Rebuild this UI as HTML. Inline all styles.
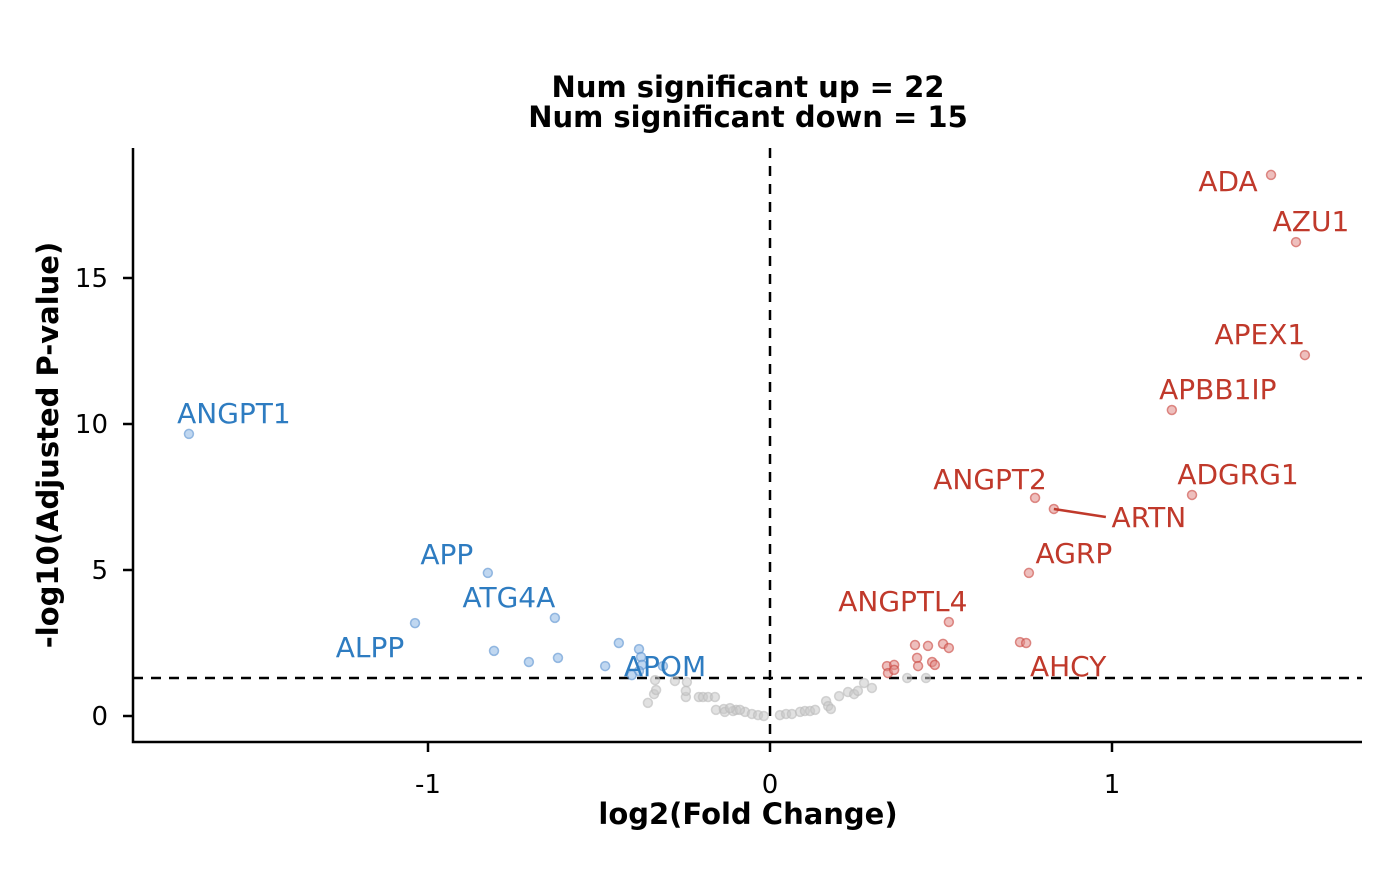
<!DOCTYPE html>
<html><head><meta charset="utf-8"><style>
body{margin:0;background:#fff;}
svg text{font-family:"DejaVu Sans","Liberation Sans",sans-serif;}
</style></head><body>
<svg id="chart" width="1400" height="866"></svg>
<script>
const grayX=[-.336,-.357,-.339,-.333,-.278,-.243,-.246,-.246,-.208,-.196,-.181,-.161,-.158,-.135,-.132,-.108,-.099,-.073,-.053,-.035,-.018,.029,.047,.064,.088,.102,.117,.132,.164,.170,.178,.202,.228,.246,.257,.275,.298,.401,.456,-.088,-.117];
const grayY=[1.23,.45,.75,.89,1.20,1.16,.65,.86,.65,.65,.65,.65,.21,.24,.14,.17,.21,.14,.07,.03,0,.03,.07,.07,.14,.17,.17,.21,.51,.34,.24,.68,.82,.75,.86,1.13,.96,1.30,1.30,.21,.27];
const upX=[1.465,1.538,1.564,1.175,1.234,.775,.830,.757,.523,.424,.462,.506,.523,.430,.474,.433,.482,.342,.363,.345,.363,.731,.749];
const upY=[18.53,16.23,12.36,10.48,7.57,7.47,7.09,4.90,3.22,2.43,2.40,2.47,2.33,1.99,1.85,1.71,1.75,1.71,1.75,1.47,1.58,2.53,2.50];
const upLabels=["ADA","AZU1","APEX1","APBB1IP","ADGRG1","ANGPT2","ARTN","AGRP","ANGPTL4","","","","","","","","","","","","","","AHCY"];
const downX=[-1.699,-.825,-.629,-1.038,-.807,-.705,-.620,-.442,-.482,-.383,-.377,-.374,-.383,-.404,-.313];
const downY=[9.66,4.90,3.36,3.18,2.23,1.85,1.99,2.50,1.71,2.29,2.02,1.75,1.54,1.40,1.71];
const downLabels=["ANGPT1","APP","ATG4A","ALPP","","","","","","","","","APOM","",""];
const xTicks=[-1,0,1];
const yTicks=[0,5,10,15];
const labelOff={ADA:[-43,6],AZU1:[15,-21],APEX1:[-45,-21],APBB1IP:[46,-21],ADGRG1:[46,-21],ANGPT2:[-45,-19],ARTN:[95,8],AGRP:[45,-20],ANGPTL4:[-46,-21],AHCY:[42,23],ANGPT1:[45,-21],APP:[-41,-19],ATG4A:[-46,-21],ALPP:[-45,24],APOM:[26,-5]};
const NS="http://www.w3.org/2000/svg";
const svg=document.getElementById('chart');
const X=v=>770+v*342, Y=v=>716-v*29.2;
function mk(t,a,p){const e=document.createElementNS(NS,t);for(const k in a)e.setAttribute(k,a[k]);(p||svg).appendChild(e);return e;}
let t=mk('text',{x:748,y:97,'text-anchor':'middle','font-size':29,'font-weight':'bold'});t.textContent='Num significant up = 22';


t=mk('text',{x:748,y:127,'text-anchor':'middle','font-size':29,'font-weight':'bold'});t.textContent='Num significant down = 15';


let ax=mk('path',{d:'M133,148V742H1362',stroke:'#000','stroke-width':2.5,fill:'none'});


yTicks.forEach(v=>{mk('line',{x1:123,x2:133,y1:Y(v),y2:Y(v),stroke:'#000','stroke-width':2.5});
 const l=mk('text',{x:108,y:Y(v)+9,'text-anchor':'end','font-size':26});l.textContent=v;
 
 });
xTicks.forEach(v=>{mk('line',{x1:X(v),x2:X(v),y1:742,y2:752,stroke:'#000','stroke-width':2.5});
 const l=mk('text',{x:X(v),y:793,'text-anchor':'middle','font-size':26});l.textContent=v;
 
 });
t=mk('text',{x:748,y:824,'text-anchor':'middle','font-size':29,'font-weight':'bold'});t.textContent='log2(Fold Change)';


t=mk('text',{x:0,y:0,'text-anchor':'middle','font-size':29,'font-weight':'bold',transform:'translate(58,445) rotate(-90)'});t.textContent='-log10(Adjusted P-value)';


let hl=mk('line',{x1:133,x2:1362,y1:Y(1.3),y2:Y(1.3),stroke:'#000','stroke-width':2.5,'stroke-dasharray':'10,8'});


let vl=mk('line',{x1:X(0),x2:X(0),y1:148,y2:742,stroke:'#000','stroke-width':2.5,'stroke-dasharray':'10,8'});


function pts(xs,ys,fill,stroke,name){xs.forEach((x,i)=>{const c=mk('circle',{cx:X(x),cy:Y(ys[i]),r:4.5,fill:fill,stroke:stroke,'stroke-width':1.5,'fill-opacity':0.55,'stroke-opacity':0.6});
 
 });}
pts(grayX,grayY,'#c8c8c8','#bbb','point-nonsignificant');
pts(upX,upY,'#e08a86','#c9463f','point-up');
pts(downX,downY,'#8db6e3','#5b93d0','point-down');
function labels(xs,ys,names,col){names.forEach((n,i)=>{if(!n)return;const o=labelOff[n];const px=X(xs[i]),py=Y(ys[i]);
 if(n==='ARTN'){mk('line',{x1:px,y1:py,x2:px+52,y2:py+8,stroke:col,'stroke-width':2.5});}
 const l=mk('text',{x:px+o[0],y:py+o[1]+10,'text-anchor':'middle','font-size':28,fill:col});l.textContent=n;
 
 });}
labels(upX,upY,upLabels,'#c0392b');
labels(downX,downY,downLabels,'#2e7cc1');
</script>
</body></html>
